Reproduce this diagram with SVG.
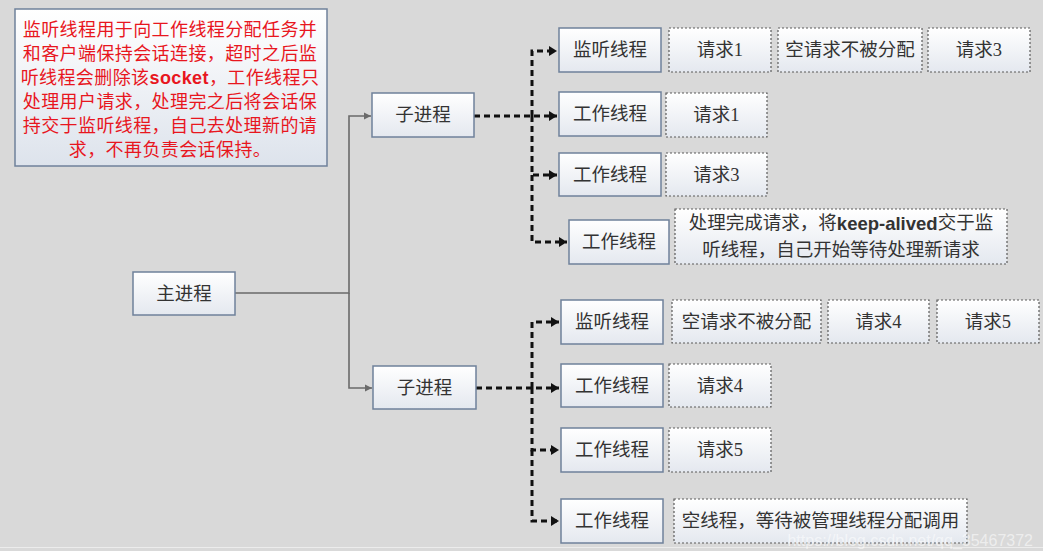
<svg xmlns="http://www.w3.org/2000/svg" width="1043" height="551" viewBox="0 0 1043 551">
<style>
.bg{fill:#d9d9d9}
.solid{fill:url(#g1);stroke:#6f819b;stroke-width:1.5}
.dash{fill:url(#g1);stroke:#5a5a5a;stroke-width:1.2;stroke-dasharray:2 2}
.lbl{font-family:"Liberation Serif","Noto Sans CJK SC",serif;font-size:18.5px;fill:#333;text-anchor:middle;dominant-baseline:central}
.note{font-family:"Noto Sans CJK SC",sans-serif;font-size:18px;fill:#e8161e;text-anchor:middle;letter-spacing:0.4px}
.b{font-family:"Liberation Sans",sans-serif;font-weight:bold}
.gl{fill:none;stroke:#6a6a6a;stroke-width:1.6}
.dl{fill:none;stroke:#111;stroke-width:3;stroke-dasharray:6 4}
</style>
<defs>
<linearGradient id="g1" x1="0" y1="0" x2="0" y2="1">
<stop offset="0" stop-color="#ffffff"/>
<stop offset="1" stop-color="#e4e8ef"/>
</linearGradient>
<linearGradient id="g2" x1="0" y1="0" x2="0" y2="1">
<stop offset="0" stop-color="#ffffff"/>
<stop offset="1" stop-color="#dde3ec"/>
</linearGradient>
<marker id="ga" markerWidth="8" markerHeight="8" refX="7" refY="4" orient="auto" markerUnits="userSpaceOnUse">
<path d="M0,0.5 L7,4 L0,7.5 Z" fill="#6a6a6a"/>
</marker>
<marker id="ba" markerWidth="9" markerHeight="10" refX="8" refY="5" orient="auto" markerUnits="userSpaceOnUse">
<path d="M0,0 L8,5 L0,10 Z" fill="#111"/>
</marker>
</defs>
<rect class="bg" x="0" y="0" width="1043" height="551"/>
<line x1="0" y1="547.5" x2="1043" y2="547.5" stroke="#ececec" stroke-width="1"/>

<g id="connectors">
<path class="gl" d="M235,293 H349 V116 H371" marker-end="url(#ga)"/>
<path class="gl" d="M349,293 V388 H372" marker-end="url(#ga)"/>
<path class="dl" d="M474,116 H557" marker-end="url(#ba)"/>
<path class="dl" d="M532,116 V51 H557" marker-end="url(#ba)"/>
<path class="dl" d="M532,116 V175 H557" marker-end="url(#ba)"/>
<path class="dl" d="M532,175 V242 H567" marker-end="url(#ba)"/>
<path class="dl" d="M476,388 H559" marker-end="url(#ba)"/>
<path class="dl" d="M532,388 V322 H559" marker-end="url(#ba)"/>
<path class="dl" d="M532,388 V450 H559" marker-end="url(#ba)"/>
<path class="dl" d="M532,450 V521 H559" marker-end="url(#ba)"/>
</g>

<g id="note">
<rect x="15" y="9" width="312" height="157" fill="url(#g2)" stroke="#6f819b" stroke-width="1.5"/>
<text class="note" x="170" y="36">监听线程用于向工作线程分配任务并</text>
<text class="note" x="170" y="60">和客户端保持会话连接，超时之后监</text>
<text class="note" x="170" y="84">听线程会删除该<tspan class="b">socket</tspan>，工作线程只</text>
<text class="note" x="170" y="108">处理用户请求，处理完之后将会话保</text>
<text class="note" x="170" y="132">持交于监听线程，自己去处理新的请</text>
<text class="note" x="170" y="156">求，不再负责会话保持。</text>
</g>

<g id="main"><rect class="solid" x="133" y="272" width="102" height="43"/><text class="lbl" x="184" y="293.5">主进程</text></g>

<g id="child1"><rect class="solid" x="372" y="93" width="102" height="44"/><text class="lbl" x="423" y="115">子进程</text></g>
<g id="listen1"><rect class="solid" x="559" y="28" width="102" height="44"/><text class="lbl" x="610" y="50">监听线程</text></g>
<g id="worker1a"><rect class="solid" x="559" y="92" width="102" height="44"/><text class="lbl" x="610" y="114">工作线程</text></g>
<g id="worker1b"><rect class="solid" x="559" y="153" width="102" height="43"/><text class="lbl" x="610" y="174.5">工作线程</text></g>
<g id="worker1c"><rect class="solid" x="569" y="220" width="100" height="44"/><text class="lbl" x="619" y="242">工作线程</text></g>

<g id="r1a"><rect class="dash" x="669" y="28" width="102" height="44"/><text class="lbl" x="720" y="50">请求1</text></g>
<g id="r1b"><rect class="dash" x="778" y="28" width="144" height="44"/><text class="lbl" x="850" y="50">空请求不被分配</text></g>
<g id="r1c"><rect class="dash" x="928" y="28" width="102" height="44"/><text class="lbl" x="979" y="50">请求3</text></g>
<g id="r2"><rect class="dash" x="666" y="93" width="101" height="44"/><text class="lbl" x="716.5" y="115">请求1</text></g>
<g id="r3"><rect class="dash" x="666" y="153" width="101" height="43"/><text class="lbl" x="716.5" y="174.5">请求3</text></g>
<g id="r4"><rect class="dash" x="675" y="209" width="332" height="55"/>
<text class="lbl" x="841" y="223">处理完成请求，将<tspan class="b">keep-alived</tspan>交于监</text>
<text class="lbl" x="841" y="250">听线程，自己开始等待处理新请求</text></g>

<g id="child2"><rect class="solid" x="373" y="366" width="103" height="43"/><text class="lbl" x="424.5" y="387.5">子进程</text></g>
<g id="listen2"><rect class="solid" x="561" y="300" width="102" height="44"/><text class="lbl" x="612" y="322">监听线程</text></g>
<g id="worker2a"><rect class="solid" x="561" y="364" width="102" height="43"/><text class="lbl" x="612" y="385.5">工作线程</text></g>
<g id="worker2b"><rect class="solid" x="561" y="428" width="102" height="44"/><text class="lbl" x="612" y="450">工作线程</text></g>
<g id="worker2c"><rect class="solid" x="561" y="499" width="102" height="44"/><text class="lbl" x="612" y="521">工作线程</text></g>

<g id="s1a"><rect class="dash" x="672" y="300" width="149" height="43"/><text class="lbl" x="746.5" y="321.5">空请求不被分配</text></g>
<g id="s1b"><rect class="dash" x="828" y="300" width="101" height="43"/><text class="lbl" x="878.5" y="321.5">请求4</text></g>
<g id="s1c"><rect class="dash" x="937" y="300" width="102" height="43"/><text class="lbl" x="988" y="321.5">请求5</text></g>
<g id="s2"><rect class="dash" x="669" y="364" width="102" height="43"/><text class="lbl" x="720" y="385.5">请求4</text></g>
<g id="s3"><rect class="dash" x="669" y="428" width="102" height="44"/><text class="lbl" x="720" y="450">请求5</text></g>
<g id="s4"><rect class="dash" x="674" y="499" width="293" height="44"/><text class="lbl" x="820.5" y="521">空线程，等待被管理线程分配调用</text></g>

<text x="1033" y="546" font-family="Liberation Sans,sans-serif" font-size="16" fill="#ffffff" fill-opacity="0.55" text-anchor="end">https://blog.csdn.net/qq_35467372</text>
</svg>
